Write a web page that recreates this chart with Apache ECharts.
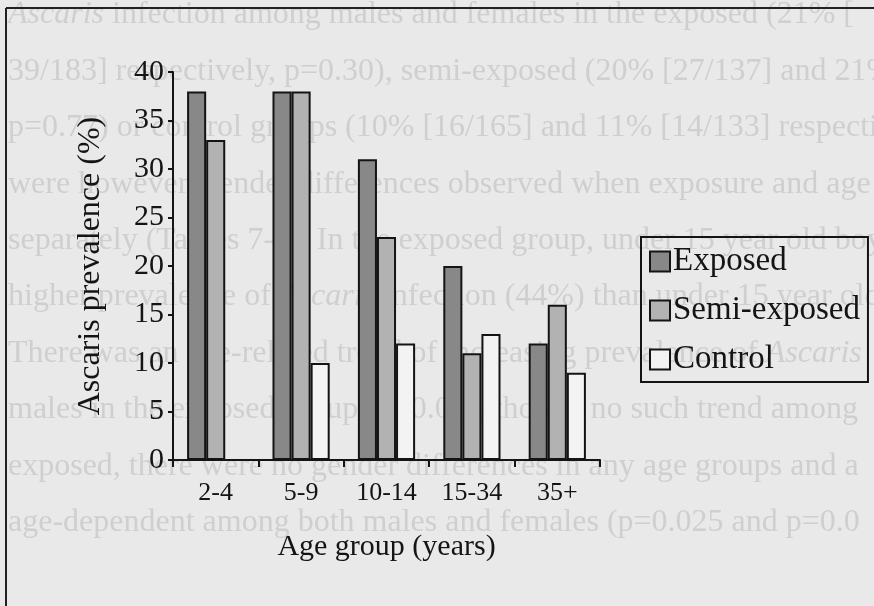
<!DOCTYPE html>
<html>
<head>
<meta charset="utf-8">
<script src="https://cdn.jsdelivr.net/npm/echarts@6/dist/echarts.min.js"></script>
<style>
  html, body { margin: 0; padding: 0; background: #e9e9e9; }
  #chart { width: 874px; height: 606px; }
</style>
</head>
<body>
<div id="chart"></div>
<script>
// Age groups on the category axis
const ageGroups = ['2-4', '5-9', '10-14', '15-34', '35+'];

// Ascaris prevalence (%) per exposure group
const exposed     = [38, 38, 31, 20, 12];
const semiExposed = [33, 38, 23, 11, 16];
const control     = [0, 10, 12, 13, 9];

const seriesNames = ['Exposed', 'Semi-exposed', 'Control'];
const yTicks = [0, 5, 10, 15, 20, 25, 30, 35, 40];

// Page text printed behind the figure
const pageLines = [
  '{i|Ascaris} infection among males and females in the exposed (21% [',
  '39/183] respectively, p=0.30), semi-exposed (20% [27/137] and 21%',
  'p=0.77) or control groups (10% [16/165] and 11% [14/133] respectively',
  'were however, gender differences observed when exposure and age',
  'separately (Tables 7-3). In the exposed group, under 15 year old boys',
  'higher prevalence of {i|Ascaris} infection (44%) than under 15 year old',
  'There was an age-related trend of increasing prevalence of {i|Ascaris}',
  'males in the exposed group (p=0.01), though no such trend among',
  'exposed, there were no gender differences in any age groups and a',
  'age-dependent among both males and females (p=0.025 and p=0.0'
];

const serif = '"Liberation Serif", "Times New Roman", serif';
const ink = '#141414';
const faint = '#cfcfcf';

const chart = echarts.init(document.getElementById('chart'), null, { renderer: 'canvas' });

const pageText = pageLines.map((line, k) => ({
  type: 'text',
  left: 8,
  top: 15 + k * 56.4 - 16,
  z: 0,
  silent: true,
  style: {
    text: line,
    font: '32px ' + serif,
    fill: faint,
    rich: { i: { fontStyle: 'italic', fontSize: 32, fontFamily: serif, fill: faint } }
  }
}));

const frame = [
  { type: 'line', z: 5, shape: { x1: 6, y1: 8, x2: 874, y2: 8 }, style: { stroke: '#222', lineWidth: 2 } },
  { type: 'line', z: 5, shape: { x1: 6, y1: 8, x2: 6, y2: 606 }, style: { stroke: '#222', lineWidth: 2 } }
];

const barStyle = (fill) => ({ color: fill, borderColor: ink, borderWidth: 2 });

chart.setOption({
  backgroundColor: '#e9e9e9',
  animation: false,
  textStyle: { fontFamily: serif, color: ink },
  graphic: pageText.concat(frame),
  grid: { left: 173, right: 274, top: 72, bottom: 146, containLabel: false },
  legend: {
    orient: 'vertical',
    left: 641,
    top: 237,
    padding: [8, 8, 6, 8],
    itemGap: 16,
    itemWidth: 20,
    itemHeight: 20,
    icon: 'rect',
    borderColor: ink,
    borderWidth: 2,
    backgroundColor: 'transparent',
    itemStyle: { borderColor: ink, borderWidth: 2 },
    textStyle: { fontFamily: serif, fontSize: 33, color: ink, padding: [0, 0, 0, -2] },
    data: seriesNames
  },
  xAxis: {
    type: 'category',
    data: ageGroups,
    name: 'Age group (years)',
    nameLocation: 'middle',
    nameGap: 72,
    nameTextStyle: { fontFamily: serif, fontSize: 30, color: ink },
    axisLine: { lineStyle: { color: ink, width: 2 } },
    axisTick: { show: true, length: 7, lineStyle: { color: ink, width: 2 } },
    axisLabel: { fontFamily: serif, fontSize: 26, color: ink, margin: 20 },
    splitLine: { show: false }
  },
  yAxis: {
    type: 'value',
    min: yTicks[0],
    max: yTicks[yTicks.length - 1],
    interval: yTicks[1] - yTicks[0],
    name: 'Ascaris prevalence (%)',
    nameLocation: 'middle',
    nameGap: 66,
    nameTextStyle: { fontFamily: serif, fontSize: 32, color: ink },
    axisLine: { show: true, lineStyle: { color: ink, width: 2 } },
    axisTick: { show: true, length: 5, lineStyle: { color: ink, width: 2 } },
    axisLabel: { fontFamily: serif, fontSize: 30, color: ink, margin: 9 },
    splitLine: { show: false }
  },
  series: [
    { name: seriesNames[0], type: 'bar', data: exposed, barGap: '0%', barCategoryGap: '33%', itemStyle: barStyle('#888888'), z: 3 },
    { name: seriesNames[1], type: 'bar', data: semiExposed, barGap: '0%', barCategoryGap: '33%', itemStyle: barStyle('#b2b2b2'), z: 3 },
    { name: seriesNames[2], type: 'bar', data: control, barGap: '0%', barCategoryGap: '33%', itemStyle: barStyle('#f3f3f3'), z: 3 }
  ]
});
</script>
</body>
</html>
